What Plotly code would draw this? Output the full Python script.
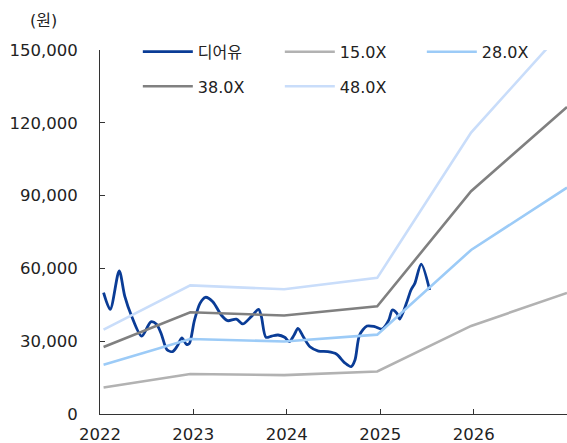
import plotly.graph_objects as go

# ---- data ----
band_dates = ["2022-01-15", "2022-12-20", "2023-12-22", "2024-12-20", "2025-12-22", "2027-01-01"]
band_15x = [10900, 16500, 16000, 17500, 36300, 49900]
band_28x = [20300, 30900, 29900, 32700, 67600, 93300]
band_38x = [27600, 41900, 40600, 44400, 91800, 126500]
band_48x = [34800, 53000, 51400, 56100, 116000, 159800]

price_dates = [
    "2022-01-15", "2022-02-10", "2022-03-17", "2022-04-08", "2022-05-04", "2022-06-13",
    "2022-07-19", "2022-08-10", "2022-08-28", "2022-09-20", "2022-10-12", "2022-10-30",
    "2022-11-17", "2022-12-05", "2022-12-16", "2023-01-05", "2023-01-27", "2023-02-17",
    "2023-03-18", "2023-04-20", "2023-05-15", "2023-06-18", "2023-07-13", "2023-08-15",
    "2023-09-13", "2023-09-24", "2023-10-12", "2023-11-03", "2023-11-28", "2023-12-24",
    "2024-01-11", "2024-01-30", "2024-02-14", "2024-03-07", "2024-04-01", "2024-05-04",
    "2024-06-10", "2024-07-13", "2024-08-15", "2024-09-09", "2024-09-24", "2024-10-12",
    "2024-11-10", "2024-12-10", "2025-01-08", "2025-02-03", "2025-02-17", "2025-03-07",
    "2025-03-18", "2025-04-13", "2025-05-01", "2025-05-16", "2025-06-10", "2025-07-13",
]
price_values = [
    50000, 43100, 59000, 48500, 40500, 32100,
    38000, 37000, 33200, 26500, 25700, 28000,
    31400, 28700, 29000, 38500, 45600, 48100,
    46300, 40800, 38450, 39100, 37100, 40100,
    43100, 40100, 31600, 32100, 32550, 31600,
    29800, 32550, 35300, 31600, 27700, 25950,
    25670, 24700, 21100, 19500, 22250, 32550,
    36250, 36000, 35000, 38700, 42850, 41500,
    39100, 45600, 51100, 53850, 61800, 51100,
]

year_ticks = ["2022-01-01", "2023-01-01", "2024-01-01", "2025-01-01", "2026-01-01"]
year_labels = ["2022", "2023", "2024", "2025", "2026"]
y_ticks = [0, 30000, 60000, 90000, 120000, 150000]

FONT = "DejaVu Sans, Noto Sans CJK KR, sans-serif"
TXT = "#222222"

fig = go.Figure()

fig.add_trace(go.Scatter(x=price_dates, y=price_values, name="디어유", mode="lines",
                         line=dict(color="#0A3C96", width=2.8, shape="spline", smoothing=0.8),
                         legend="legend"))
fig.add_trace(go.Scatter(x=band_dates, y=band_15x, name="15.0X", mode="lines",
                         line=dict(color="#B2B2B2", width=2.6), legend="legend"))
fig.add_trace(go.Scatter(x=band_dates, y=band_28x, name="28.0X", mode="lines",
                         line=dict(color="#9CCBF7", width=2.6), legend="legend"))
fig.add_trace(go.Scatter(x=band_dates, y=band_38x, name="38.0X", mode="lines",
                         line=dict(color="#808080", width=2.6), legend="legend2"))
fig.add_trace(go.Scatter(x=band_dates, y=band_48x, name="48.0X", mode="lines",
                         line=dict(color="#C9DDFA", width=2.6), legend="legend2"))

legend_common = dict(orientation="h", xanchor="left", yanchor="middle",
                     font=dict(family=FONT, size=16, color=TXT),
                     bgcolor="rgba(0,0,0,0)", entrywidth=77, entrywidthmode="pixels",
                     itemwidth=50, traceorder="normal")

fig.update_layout(
    width=567, height=443,
    margin=dict(l=100, r=0, t=50, b=29, autoexpand=False),
    paper_bgcolor="white", plot_bgcolor="white",
    font=dict(family=FONT, size=16.5, color=TXT),
    showlegend=True,
    legend=dict(x=0.081, y=0.995, **legend_common),
    legend2=dict(x=0.081, y=0.9, **legend_common),
    xaxis=dict(type="date", range=["2022-01-01", "2027-01-01"],
               tickvals=year_ticks, ticktext=year_labels,
               ticks="inside", ticklen=5, tickcolor="#333333", tickwidth=1,
               showline=True, linecolor="#333333", linewidth=1,
               showgrid=False, zeroline=False, ticklabelstandoff=5, automargin=False,
               tickfont=dict(family=FONT, size=16.5, color=TXT)),
    yaxis=dict(range=[0, 150000], tickvals=y_ticks, tickformat=",d",
               ticks="inside", ticklen=5, tickcolor="#333333", tickwidth=1,
               showline=True, linecolor="#333333", linewidth=1,
               showgrid=False, zeroline=False, ticklabelstandoff=18, automargin=False,
               tickfont=dict(family=FONT, size=16.5, color=TXT)),
    annotations=[dict(text="(원)", xref="paper", yref="paper", x=-0.12, y=1.08,
                      xanchor="center", yanchor="middle", showarrow=False,
                      font=dict(family=FONT, size=16, color=TXT))],
)

fig.write_html("out.html")
